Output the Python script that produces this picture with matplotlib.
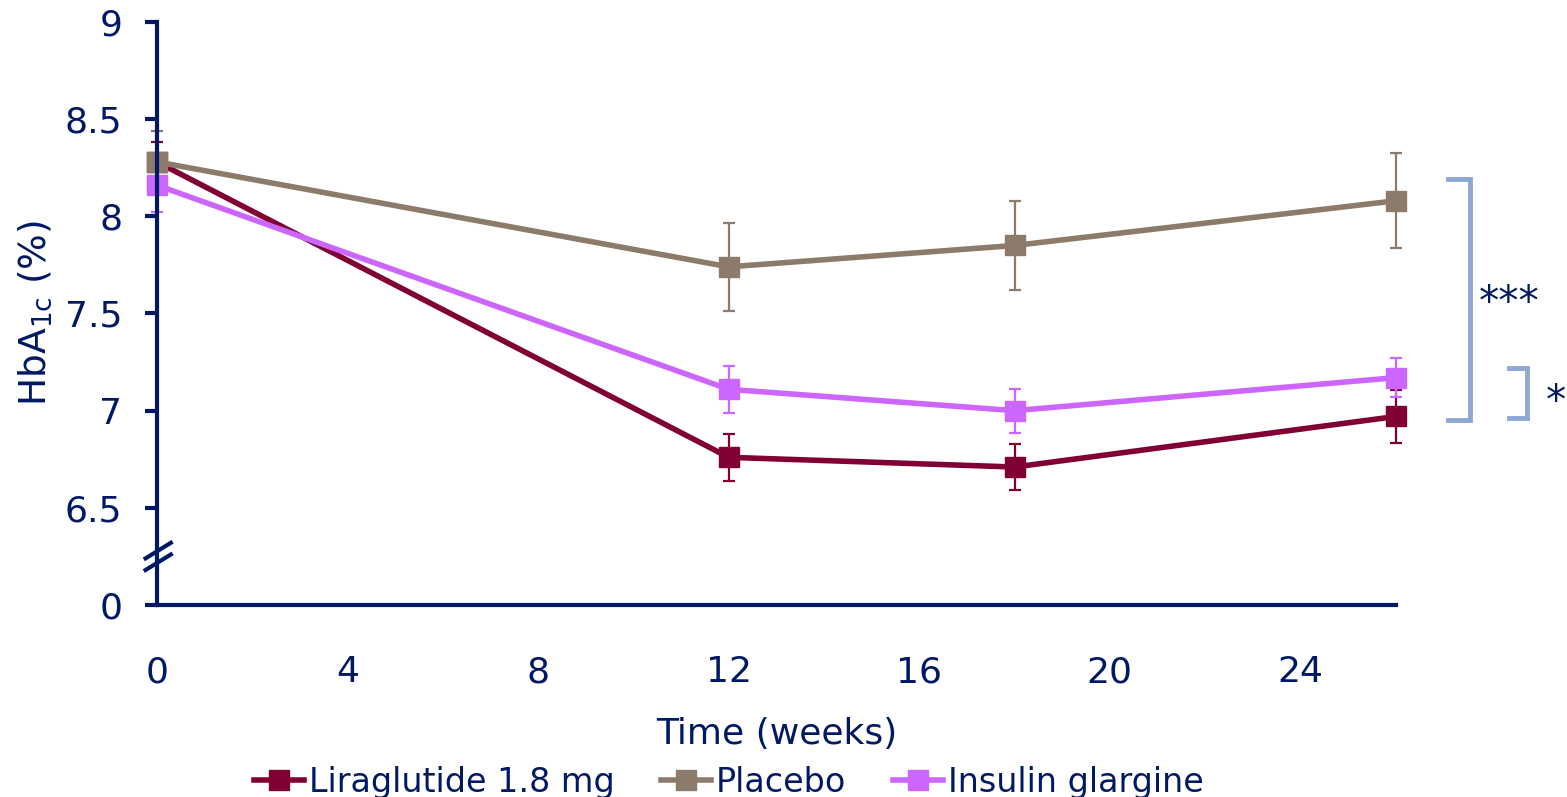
import numpy as np
import matplotlib
matplotlib.use('Agg')
import matplotlib.pyplot as plt
from matplotlib.lines import Line2D

# Data
weeks = [0, 12, 18, 26]
lira = [8.28, 6.76, 6.71, 6.97]
lira_err = [0.10, 0.12, 0.12, 0.135]
placebo = [8.28, 7.74, 7.85, 8.08]
placebo_err = [0.16, 0.225, 0.23, 0.245]
glargine = [8.16, 7.11, 7.00, 7.17]
glargine_err = [0.14, 0.12, 0.113, 0.10]

series_names = ['Liraglutide 1.8 mg', 'Placebo', 'Insulin glargine']
x_ticks = [0, 4, 8, 12, 16, 20, 24]
y_ticks = [6.0, 6.5, 7.0, 7.5, 8.0, 8.5, 9.0]
y_tick_labels = ['0', '6.5', '7', '7.5', '8', '8.5', '9']

navy = '#001965'
colors = ['#800033', '#8c7b6b', '#cc66ff']
bracket_col = '#8fa8d2'

plt.rcParams['font.family'] = ['DejaVu Sans']

fig = plt.figure(figsize=(15.67, 7.97), dpi=100)
ax = fig.add_axes([0.1002, 0.2409, 0.7905, 0.7315])

for vals, errs, col in zip([lira, placebo, glargine],
                           [lira_err, placebo_err, glargine_err], colors):
    ax.errorbar(weeks, vals, yerr=errs, color=col, lw=4, marker='s', ms=15,
                elinewidth=1.6, capsize=4.5, capthick=1.6, clip_on=False)

ax.set_xlim(0, 26)
ax.set_ylim(6.0, 9.0)
ax.set_xticks(x_ticks)
ax.set_yticks(y_ticks)
ax.set_yticklabels(y_tick_labels)

for side in ['top', 'right']:
    ax.spines[side].set_visible(False)
for side in ['left', 'bottom']:
    ax.spines[side].set_color(navy)
    ax.spines[side].set_linewidth(3)

ax.tick_params(axis='y', direction='out', length=9, width=3, color=navy,
               labelcolor=navy, labelsize=26, pad=16)
ax.tick_params(axis='x', length=0, labelcolor=navy, labelsize=26, pad=36)

ax.set_xlabel('Time (weeks)', fontsize=26, color=navy, labelpad=20)
ax.set_ylabel('HbA$_{\\mathregular{1c}}$ (%)', fontsize=27, color=navy, labelpad=8)

# axis break marks
for y0 in [6.22, 6.28]:
    ax.plot([-0.24, 0.29], [y0 - 0.04, y0 + 0.04], color=navy, lw=3, clip_on=False)

# significance brackets
ax.plot([27.1, 27.55, 27.55, 27.1], [8.19, 8.19, 6.95, 6.95], color=bracket_col,
        lw=3.5, clip_on=False, solid_joinstyle='miter')
ax.plot([28.37, 28.75, 28.75, 28.37], [7.22, 7.22, 6.96, 6.96], color=bracket_col,
        lw=3.5, clip_on=False, solid_joinstyle='miter')
ax.text(27.75, 7.55, '***', fontsize=29, color=navy, va='center', ha='left')
ax.text(29.15, 7.04, '*', fontsize=29, color=navy, va='center', ha='left')

handles = [Line2D([], [], color=c, lw=4, marker='s', ms=15) for c in colors]
fig.legend(handles, series_names, loc='lower center', bbox_to_anchor=(0.465, -0.04),
           ncol=3, frameon=False, fontsize=24, handlelength=1.5, handletextpad=0.15,
           columnspacing=1.4, labelcolor=navy)

fig.savefig('out.png', dpi=100)
